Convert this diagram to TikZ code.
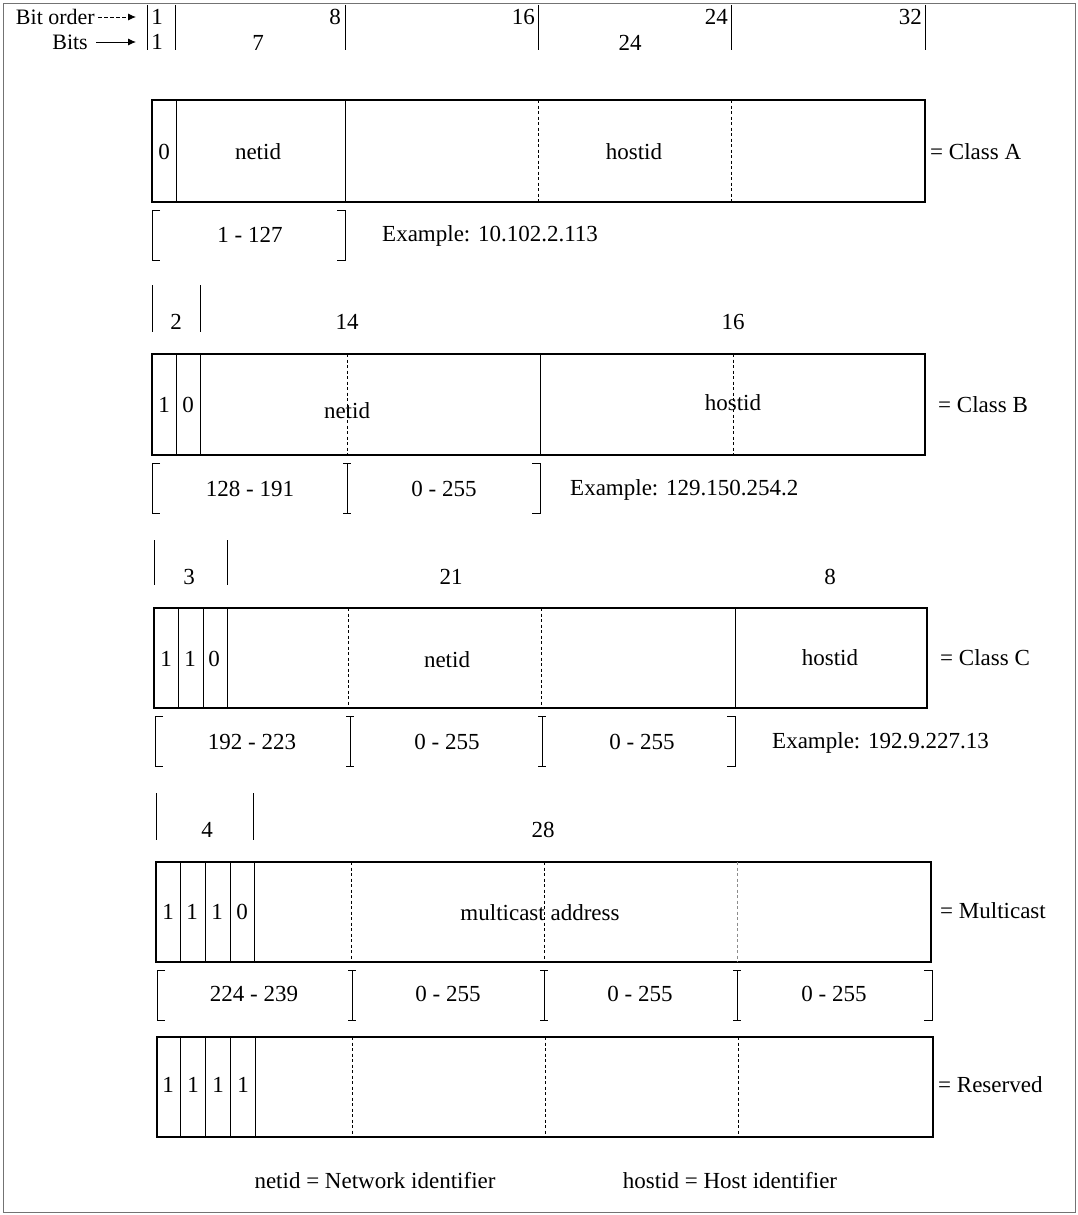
\documentclass[tikz,border=0pt]{standalone}
\usepackage{fontspec}
\setmainfont{Liberation Serif}
\usetikzlibrary{arrows.meta}
\newcommand\lbrk[3]{\draw[brk] (#1+8,#2) -- (#1,#2) -- (#1,#3) -- (#1+8,#3);}
\newcommand\rbrk[3]{\draw[brk] (#1-8,#2) -- (#1,#2) -- (#1,#3) -- (#1-8,#3);}
\newcommand\ibrk[3]{\draw[brk] (#1-4,#2) -- (#1+4,#2) (#1,#2) -- (#1,#3) (#1-4,#3) -- (#1+4,#3);}
\begin{document}
\begin{tikzpicture}[x=1pt,y=-1pt,
  lbl/.style={font=\fontsize{23}{27}\selectfont, inner sep=0pt},
  hdr/.style={font=\fontsize{22}{25}\selectfont, inner sep=0pt},
  box/.style={line width=1.6pt},
  sep/.style={line width=0.9pt},
  dsep/.style={line width=0.8pt, dash pattern=on 3pt off 2.5pt},
  bar/.style={line width=0.9pt},
  brk/.style={line width=0.9pt}]
\useasboundingbox (0,0) rectangle (1078,1215);
\draw[line width=0.7pt, black!55] (3,3) rectangle (1075,1212);

% header
\node[hdr, anchor=east] (bo) at (95,17) {Bit order};
\node[hdr, anchor=east] (bits) at (88,42) {Bits};
\coordinate (boe) at (136,17);
\coordinate (bitse) at (136,42);
\draw[line width=0.9pt, dash pattern=on 4pt off 2pt, -{Latex[length=8pt,width=7pt]}] (bo.east) ++(3,0) -- (boe);
\draw[line width=0.9pt, -{Latex[length=8pt,width=7pt]}] (bits.east) ++(8,0) -- (bitse);
\foreach \x in {147,175,345,538,731,925} \draw[bar] (\x,5) -- (\x,50);
\node[lbl] (h1a) at (157,17) {1};
\node[lbl] (h1b) at (157,42) {1};
\node[lbl, anchor=east] (h8) at (341,17) {8};
\node[lbl, anchor=east] (h16) at (535,17) {16};
\node[lbl, anchor=east] (h24) at (728,17) {24};
\node[lbl, anchor=east] (h32) at (922,17) {32};
\node[lbl] (h7) at (258,43) {7};
\node[lbl] (h24b) at (630,43) {24};

% Class A
\draw[box] (152,100) rectangle (925,202);
\foreach \x in {176,345} \draw[sep] (\x,100) -- (\x,202);
\foreach \x in {538,731} \draw[dsep] (\x,100) -- (\x,202);
\node[lbl] (a0) at (164,152) {0};
\node[lbl] (anet) at (258,152) {netid};
\node[lbl] (ahost) at (634,152) {hostid};
\node[lbl, anchor=west] (acls) at (930,152) {= Class A};
\lbrk{152}{210}{260}
\rbrk{345}{210}{260}
\node[lbl] (ar1) at (250,235) {1 - 127};
\node[lbl, anchor=west] (aex) at (382,236) {Example: 10.102.2.113};

% Class B
\foreach \x in {152,200} \draw[bar] (\x,285) -- (\x,332);
\node[lbl] (b2) at (176,322) {2};
\node[lbl] (b14) at (347,322) {14};
\node[lbl] (b16) at (733,322) {16};
\draw[box] (152,354) rectangle (925,455);
\foreach \x in {176,200,540} \draw[sep] (\x,354) -- (\x,455);
\foreach \x in {347,733} \draw[dsep] (\x,354) -- (\x,455);
\node[lbl] (b1) at (164,405) {1};
\node[lbl] (b0) at (188,405) {0};
\node[lbl] (bnet) at (347,411) {netid};
\node[lbl] (bhost) at (733,403) {hostid};
\node[lbl, anchor=west] (bcls) at (938,405) {= Class B};
\lbrk{152}{463}{513}
\ibrk{347}{463}{513}
\rbrk{540}{463}{513}
\node[lbl] (br1) at (250,489) {128 - 191};
\node[lbl] (br2) at (444,489) {0 - 255};
\node[lbl, anchor=west] (bex) at (570,490) {Example: 129.150.254.2};

% Class C
\foreach \x in {154,227} \draw[bar] (\x,540) -- (\x,585);
\node[lbl] (c3) at (189,577) {3};
\node[lbl] (c21) at (451,577) {21};
\node[lbl] (c8) at (830,577) {8};
\draw[box] (154,608) rectangle (927,708);
\foreach \x in {178,203,227,735} \draw[sep] (\x,608) -- (\x,708);
\foreach \x in {348,541} \draw[dsep] (\x,608) -- (\x,708);
\node[lbl] (c1a) at (166,659) {1};
\node[lbl] (c1b) at (190,659) {1};
\node[lbl] (c0) at (214,659) {0};
\node[lbl] (cnet) at (447,660) {netid};
\node[lbl] (chost) at (830,658) {hostid};
\node[lbl, anchor=west] (ccls) at (940,658) {= Class C};
\lbrk{155}{716}{766}
\ibrk{350}{716}{766}
\ibrk{542}{716}{766}
\rbrk{735}{716}{766}
\node[lbl] (cr1) at (252,742) {192 - 223};
\node[lbl] (cr2) at (447,742) {0 - 255};
\node[lbl] (cr3) at (642,742) {0 - 255};
\node[lbl, anchor=west] (cex) at (772,743) {Example: 192.9.227.13};

% Multicast
\foreach \x in {156,253} \draw[bar] (\x,793) -- (\x,840);
\node[lbl] (m4) at (207,830) {4};
\node[lbl] (m28) at (543,830) {28};
\draw[box] (156,862) rectangle (931,962);
\foreach \x in {180,205,230,254} \draw[sep] (\x,862) -- (\x,962);
\foreach \x in {351,544} \draw[dsep] (\x,862) -- (\x,962);
\draw[dsep, black!45] (737,862) -- (737,962);
\node[lbl] (m1a) at (168,912) {1};
\node[lbl] (m1b) at (192,912) {1};
\node[lbl] (m1c) at (217,912) {1};
\node[lbl] (m0) at (242,912) {0};
\node[lbl] (mtxt) at (540,913) {multicast address};
\node[lbl, anchor=west] (mcls) at (940,911) {= Multicast};
\lbrk{157}{970}{1020}
\ibrk{352}{970}{1020}
\ibrk{544}{970}{1020}
\ibrk{737}{970}{1020}
\rbrk{932}{970}{1020}
\node[lbl] (mr1) at (254,994) {224 - 239};
\node[lbl] (mr2) at (448,994) {0 - 255};
\node[lbl] (mr3) at (640,994) {0 - 255};
\node[lbl] (mr4) at (834,994) {0 - 255};

% Reserved
\draw[box] (157,1037) rectangle (933,1137);
\foreach \x in {180,205,230,255} \draw[sep] (\x,1037) -- (\x,1137);
\foreach \x in {352,545,738} \draw[dsep] (\x,1037) -- (\x,1137);
\node[lbl] (r1a) at (168,1085) {1};
\node[lbl] (r1b) at (193,1085) {1};
\node[lbl] (r1c) at (218,1085) {1};
\node[lbl] (r1d) at (243,1085) {1};
\node[lbl, anchor=west] (rcls) at (938,1085) {= Reserved};

% footer
\node[lbl] (fnet) at (375,1181) {netid = Network identifier};
\node[lbl] (fhost) at (730,1181) {hostid = Host identifier};
\end{tikzpicture}
\end{document}
